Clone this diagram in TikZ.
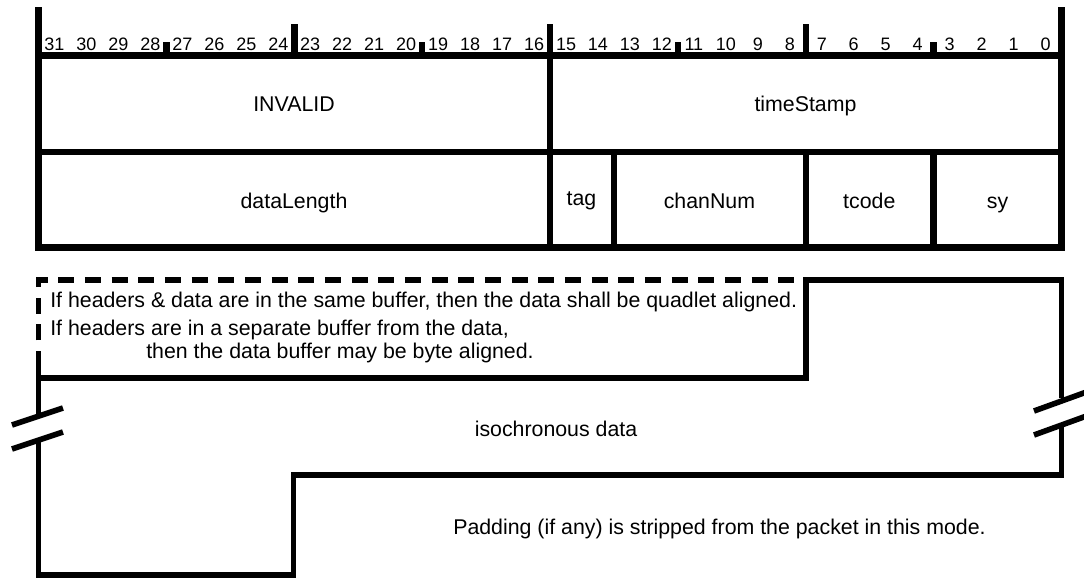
\documentclass[tikz,border=0pt]{standalone}
\usepackage{fontspec}
\setmainfont{Liberation Sans}
\usetikzlibrary{calc}

\tikzset{
    frame/.style={line width=4.9pt, line join=miter},
    body/.style={line width=4.2pt, line join=miter},
    bitnum/.style={font=\fontsize{13.5}{15}\selectfont, anchor=base, inner sep=0pt},
    field/.style={font=\fontsize{16}{18}\selectfont, anchor=base, inner sep=0pt},
    note/.style={font=\fontsize{16}{18}\selectfont, anchor=base west, inner sep=0pt},
}

\begin{document}
\begin{tikzpicture}[x=0.75pt, y=-0.75pt]
    \useasboundingbox (0,0) rectangle (1084,578);
    \def\bw{31.97}

    %header frame, rows and ticks
        \draw[frame] (38.5,7) -- (38.5,247.5) -- (1061.5,247.5) -- (1061.5,7);
        \draw[frame] (38.5,55.5) -- (1061.5,55.5);
        \draw[frame] (38.5,152) -- (1061.5,152);
        \foreach \b in {8,16,24}
            \draw[frame] ({38.5+\b*\bw},24) -- ({38.5+\b*\bw},55.5);
        \foreach \b in {4,12,20,28}
            \draw[frame] ({38.5+\b*\bw},42) -- ({38.5+\b*\bw},55.5);
        \foreach \b in {18,24,28}
            \draw[frame] ({38.5+\b*\bw},152) -- ({38.5+\b*\bw},247.5);
        \draw[frame] ({38.5+16*\bw},55.5) -- ({38.5+16*\bw},247.5);

    %bit numbers
        \foreach \b in {0,...,31}
            \node[bitnum] (bit\b) at ({38.5+(31.5-\b)*\bw},50) {\b};

    %field names
        \node[field] (invalid) at (294,111) {INVALID};
        \node[field] (timestamp) at (805.5,111) {timeStamp};
        \node[field] (datalength) at (294,208.5) {dataLength};
        \node[field] (tag) at (581.5,205) {tag};
        \node[field] (channum) at (709.4,208.5) {chanNum};
        \node[field] (tcode) at (869.3,208.5) {tcode};
        \node[field] (sy) at (997.5,208.5) {sy};

    %data block outline
        \coordinate (DL) at (38.5,280);
        \coordinate (DR) at (806,280);
        \coordinate (DB) at (806,378);
        \draw[body, dash pattern=on 12pt off 8pt] (38.5,367) -- (DL) -- (DR);
        \draw[body] (38.5,378) -- (DB) -- (DR) -- (1061.5,280) -- (1061.5,398);
        \draw[body] (1061.5,423) -- (1061.5,475) -- (293.5,475) -- (293.5,575)
            -- (38.5,575) -- (38.5,438);
        \draw[body] (38.5,414) -- (38.5,367);

    %break marks
        \draw[body] (12,425) -- (63,408);
        \draw[body] (12,449) -- (63,432);
        \draw[body] (1034,411) -- (1092,390);
        \draw[body] (1034,435) -- (1092,414);

    %notes
        \node[note] (same) at (50,307) {If headers \& data are in the same buffer, then the data shall be quadlet aligned.};
        \node[note] (sep) at (50,335.5) {If headers are in a separate buffer from the data,};
        \node[note] (byte) at (146,358) {then the data buffer may be byte aligned.};
        \node[field] (iso) at (556,436) {isochronous data};
        \node[note] (pad) at (453,534) {Padding (if any) is stripped from the packet in this mode.};

\end{tikzpicture}
\end{document}
